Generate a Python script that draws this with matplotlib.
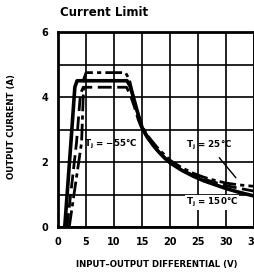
import matplotlib
matplotlib.use("Agg")
import matplotlib.pyplot as plt
import numpy as np

# curve data (V, A)
x_25 = [1.2, 2.3, 3.0, 3.4, 12.3, 12.8, 13.5, 14.3, 15, 16, 17, 18, 19, 20, 22, 24, 26, 28, 30, 32, 35]
y_25 = [0.0, 2.6, 4.3, 4.5, 4.5, 4.35, 3.95, 3.45, 3.05, 2.75, 2.5, 2.3, 2.12, 1.97, 1.75, 1.57, 1.42, 1.3, 1.18, 1.08, 0.95]

x_150 = [1.6, 3.3, 4.0, 4.5, 12.2, 12.9, 13.6, 14.3, 15, 16, 18, 20, 22, 24, 26, 28, 30, 32, 35]
y_150 = [0.0, 2.6, 4.1, 4.3, 4.3, 4.05, 3.7, 3.3, 3.0, 2.72, 2.3, 1.98, 1.76, 1.6, 1.47, 1.37, 1.27, 1.2, 1.1]

x_m55 = [2.0, 4.2, 4.6, 5.0, 12.0, 12.7, 13.3, 14, 15, 16, 18, 20, 22, 24, 26, 28, 30, 32, 35]
y_m55 = [0.0, 2.6, 4.55, 4.75, 4.75, 4.55, 4.1, 3.6, 3.1, 2.8, 2.38, 2.05, 1.83, 1.66, 1.53, 1.43, 1.35, 1.3, 1.25]

x_ticks = [0, 5, 10, 15, 20, 25, 30, 35]
y_ticks = [0, 2, 4, 6]

fig = plt.figure(figsize=(2.55, 2.77), dpi=100)
ax = fig.add_axes([58 / 255, 1 - 227 / 277, 196.5 / 255, 195 / 277])

ax.plot(x_25, y_25, color='black', lw=2.6, solid_capstyle='butt')
ax.plot(x_150, y_150, color='black', lw=2.0, dashes=(5, 2))
ax.plot(x_m55, y_m55, color='black', lw=2.0, dashes=(6, 1.5, 1.5, 1.5))

ax.set_xlim(0, 35)
ax.set_ylim(0, 6)
ax.set_xticks(x_ticks)
ax.set_yticks(y_ticks)
ax.set_yticks([1, 3, 5], minor=True)
ax.grid(True, which='both', color='black', lw=1.2)
ax.tick_params(which='both', length=0, labelsize=7, pad=7)
for lab in ax.get_xticklabels() + ax.get_yticklabels():
    lab.set_fontweight('bold')
for s in ax.spines.values():
    s.set_linewidth(2)

tk = dict(fontsize=6.3, fontweight='bold', va='center')
ax.text(4.7, 2.55, "T$_\\mathbf{j}$ = \u221255\u00b0C", ha='left', **tk)
ax.text(22.8, 2.5, "T$_\\mathbf{j}$ = 25\u00b0C", ha='left', **tk)
ax.text(22.8, 0.75, "T$_\\mathbf{j}$ = 150\u00b0C", ha='left',
        bbox=dict(facecolor='white', edgecolor='none', pad=0.5), **tk)
ax.annotate("", xy=(32, 1.45), xytext=(28.4, 2.2),
            arrowprops=dict(arrowstyle='-', color='black', lw=1))

fig.text(60 / 255, 1 - 12 / 277, "Current Limit", fontsize=8.5, fontweight='bold',
         ha='left', va='center')
fig.text(12 / 255, 1 - 127 / 277, "OUTPUT CURRENT (A)", fontsize=6.2, fontweight='bold',
         rotation=90, ha='center', va='center')
fig.text(157 / 255, 1 - 265 / 277, "INPUT\u2013OUTPUT DIFFERENTIAL (V)", fontsize=6.2,
         fontweight='bold', ha='center', va='center')

fig.savefig("out.png", dpi=100)
